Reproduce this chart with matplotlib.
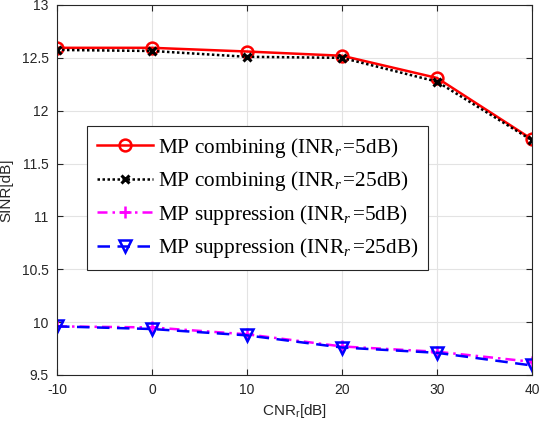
import matplotlib
matplotlib.use("Agg")
import matplotlib.pyplot as plt

cnr = [-10, 0, 10, 20, 30, 40]
comb_5 = [12.595, 12.595, 12.56, 12.52, 12.31, 11.73]
comb_25 = [12.575, 12.565, 12.51, 12.50, 12.275, 11.72]
supp_5 = [9.96, 9.95, 9.885, 9.77, 9.72, 9.625]
supp_25 = [9.96, 9.935, 9.875, 9.76, 9.71, 9.59]
labels = [r"MP combining (INR$_r\,$=5dB)", r"MP combining (INR$_r\,$=25dB)",
          r"MP suppression (INR$_r\,$=5dB)", r"MP suppression (INR$_r\,$=25dB)"]
xticks = [-10, 0, 10, 20, 30, 40]
yticks = [9.5, 10, 10.5, 11, 11.5, 12, 12.5, 13]

plt.rcParams['mathtext.fontset'] = 'custom'
plt.rcParams['mathtext.rm'] = 'Liberation Serif'
plt.rcParams['mathtext.it'] = 'Liberation Serif:italic'

fig = plt.figure(figsize=(5.42, 4.28), dpi=100)
L, R, T, B = 57, 532, 5, 375
ax = fig.add_axes([L/542, (428-B)/428, (R-L)/542, (B-T)/428])

ax.plot(cnr, comb_5, color='red', lw=1.8, marker='o', ms=8.5, mfc='none', mew=1.8, label=labels[0])
ax.plot(cnr, comb_25, color='black', lw=1.8, ls=(0, (1, 1)), marker='x', ms=6, mew=2.2, label=labels[1])
ax.plot(cnr, supp_5, color='magenta', lw=1.8, ls=(0, (4, 2, 1, 2)), marker='+', ms=9, mew=1.8, label=labels[2])
ax.plot(cnr, supp_25, color='blue', lw=1.8, ls=(0, (5, 3)), marker='v', ms=9, mfc='none', mew=1.8, label=labels[3])

ax.set_xlim(-10, 40)
ax.set_ylim(9.5, 13)
ax.set_xticks(xticks)
ax.set_yticks(yticks)
ax.set_xticklabels([str(t) for t in xticks], family='Liberation Sans', fontsize=10, color='#262626')
ax.set_yticklabels([f"{t:g}" for t in yticks], family='Liberation Sans', fontsize=10, color='#262626')
ax.tick_params(direction='in', top=True, right=True, length=4, color='#262626', pad=6)
ax.grid(True, color='#e3e3e3', lw=0.8)
ax.set_axisbelow(True)
for s in ax.spines.values():
    s.set_color('#262626')
    s.set_linewidth(0.8)

ax.set_xlabel(r"CNR$_\mathregular{r}$[dB]", family='Liberation Sans', fontsize=11, color='#262626', labelpad=3)
ax.set_ylabel("SINR[dB]", family='Liberation Sans', fontsize=11, color='#262626', labelpad=6)

leg = ax.legend(loc='upper left', bbox_to_anchor=((87-L)/(R-L), (B-126)/(B-T)),
                prop={'family': 'Liberation Serif', 'size': 15.3}, frameon=True, fancybox=False,
                edgecolor='#262626', framealpha=1, handlelength=2.65, handletextpad=0.25,
                borderpad=0.45, labelspacing=0.45, borderaxespad=0)
leg.get_frame().set_linewidth(0.8)

fig.savefig("out.png", dpi=100)
